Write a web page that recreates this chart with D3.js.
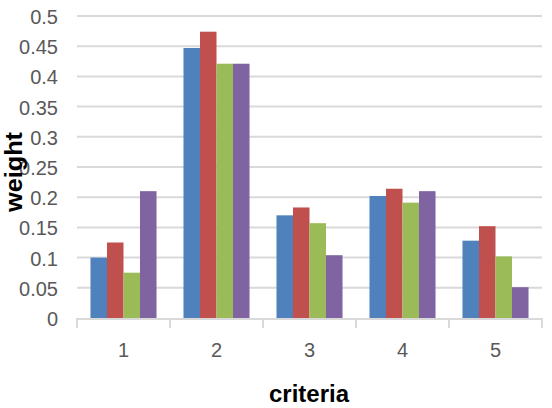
<!DOCTYPE html>
<html>
<head>
<meta charset="utf-8">
<script src="https://cdn.jsdelivr.net/npm/d3@7"></script>
<style>
  body { margin: 0; background: #fff; }
  svg { display: block; }
</style>
</head>
<body>
<svg id="chart" width="552" height="408"></svg>
<script>
// data
const criteria = ["1", "2", "3", "4", "5"];
const series1 = [0.100, 0.447, 0.170, 0.202, 0.128];
const series2 = [0.125, 0.474, 0.183, 0.214, 0.152];
const series3 = [0.075, 0.421, 0.157, 0.191, 0.102];
const series4 = [0.210, 0.421, 0.104, 0.210, 0.051];
const yTicks = [0, 0.05, 0.1, 0.15, 0.2, 0.25, 0.3, 0.35, 0.4, 0.45, 0.5];
const colors = ["#4F81BD", "#C0504D", "#9BBB59", "#8064A2"];

const allSeries = [series1, series2, series3, series4];

var svg = d3.select("#chart");
const plotLeft = 77, plotRight = 542, plotTop = 16, plotBottom = 318;

var x = d3.scaleBand()
  .domain(criteria)
  .range([plotLeft, plotRight])
  .paddingInner(0.29)
  .paddingOuter(0.145);

var x1 = d3.scaleBand()
  .domain(d3.range(allSeries.length))
  .range([0, x.bandwidth()]);

var y = d3.scaleLinear()
  .domain([0, 0.5])
  .range([plotBottom, plotTop]);

// gridlines
svg.append("g")
  .selectAll("line")
  .data(yTicks.slice(1))
  .enter().append("line")
    .attr("x1", plotLeft)
    .attr("x2", plotRight)
    .attr("y1", d => y(d))
    .attr("y2", d => y(d))
    .attr("stroke", "#d9d9d9")
    .attr("stroke-width", 2);

// y labels
svg.append("g")
  .selectAll("text")
  .data(yTicks)
  .enter().append("text")
    .attr("x", 58)
    .attr("y", d => y(d) + 1)
    .attr("dy", "0.35em")
    .attr("text-anchor", "end")
    .style("font-family", "'Liberation Sans', Arial, sans-serif")
    .style("font-size", "20px")
    .style("fill", "#595959")
    .text(d => d);

// bars
svg.append("g")
  .selectAll("g")
  .data(criteria)
  .enter().append("g")
    .attr("transform", d => "translate(" + x(d) + ",0)")
  .selectAll("rect")
  .data((d, i) => allSeries.map((s, k) => ({k: k, v: s[i]})))
  .enter().append("rect")
    .attr("x", d => x1(d.k))
    .attr("width", x1.bandwidth())
    .attr("y", d => y(d.v))
    .attr("height", d => y(0) - y(d.v))
    .attr("fill", d => colors[d.k]);

// x axis line + ticks
var step = x.step();
svg.append("line")
  .attr("x1", plotLeft).attr("x2", plotRight)
  .attr("y1", plotBottom + 1).attr("y2", plotBottom + 1)
  .attr("stroke", "#d9d9d9")
  .attr("stroke-width", 2);
svg.append("g")
  .selectAll("line")
  .data(d3.range(criteria.length + 1))
  .enter().append("line")
    .attr("x1", d => plotLeft + d * step)
    .attr("x2", d => plotLeft + d * step)
    .attr("y1", plotBottom)
    .attr("y2", plotBottom + 10)
    .attr("stroke", "#d9d9d9")
    .attr("stroke-width", 2);

svg.append("g")
  .selectAll("text")
  .data(criteria)
  .enter().append("text")
    .attr("x", d => x(d) + x.bandwidth() / 2)
    .attr("y", 350)
    .attr("dy", "0.35em")
    .attr("text-anchor", "middle")
    .style("font-family", "'Liberation Sans', Arial, sans-serif")
    .style("font-size", "20px")
    .style("fill", "#595959")
    .text(d => d);

// axis titles
svg.append("text")
  .attr("x", 309)
  .attr("y", 402)
  .attr("text-anchor", "middle")
  .style("font-family", "'Liberation Sans', Arial, sans-serif")
  .style("font-size", "24px")
  .style("font-weight", "bold")
  .style("fill", "#000")
  .text("criteria");

svg.append("text")
  .attr("transform", "translate(22,172) rotate(-90) scale(1.1,1)")
  .attr("text-anchor", "middle")
  .style("font-family", "'Liberation Sans', Arial, sans-serif")
  .style("font-size", "23px")
  .style("font-weight", "bold")
  .style("fill", "#000")
  .text("weight");
</script>
</body>
</html>
